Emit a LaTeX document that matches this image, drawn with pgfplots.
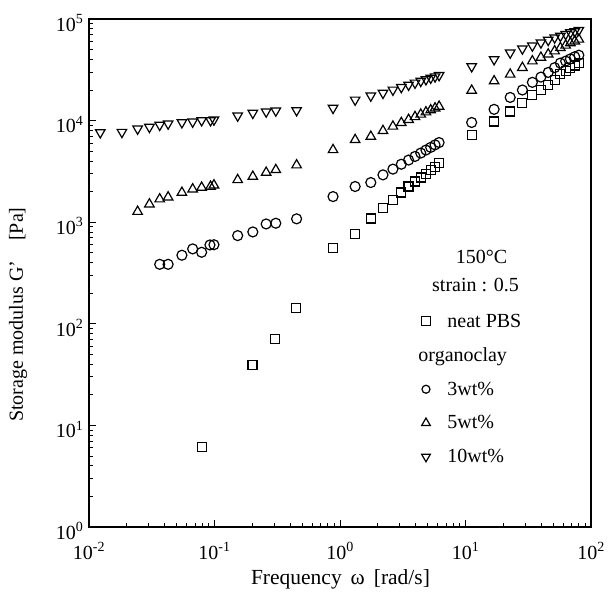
\documentclass[border=0pt]{standalone}
\usepackage{fontspec}
\setmainfont{Liberation Serif}
\usepackage{pgfplots}
\pgfplotsset{compat=1.18}
\newcommand{\bigf}{\fontsize{20bp}{24bp}\selectfont}
\newcommand{\labf}{\fontsize{21.5bp}{25bp}\selectfont}
\begin{document}
\begin{tikzpicture}
\path[use as bounding box] (-89bp,-67bp) rectangle (522bp,527bp);
\begin{axis}[
  at={(0,0)}, anchor=south west,
  scale only axis, width=502bp, height=508bp,
  xmode=log, ymode=log,
  xmin=0.01, xmax=100, ymin=1, ymax=1e5,
  tick align=inside, xtick pos=bottom, ytick pos=left,
  axis line style={line width=1.4bp},
  major tick length=7bp, minor tick length=4bp,
  every tick/.style={line width=0.9bp, black},
  xticklabel={10\textsuperscript{\pgfmathparse{int(round(\tick/ln(10)))}\pgfmathresult}},
  yticklabel={10\textsuperscript{\pgfmathparse{int(round(\tick/ln(10)))}\pgfmathresult}},
  tick label style={font=\bigf},
  xticklabel style={yshift=-12bp},
  yticklabel style={xshift=-2bp, yshift=-4bp},
  xlabel={Frequency \,ω\, [rad/s]},
  ylabel={Storage modulus G'\quad [Pa]},
  every axis x label/.style={at={(axis description cs:0.501,-0.104)}, anchor=center, font=\labf},
  every axis y label/.style={at={(axis description cs:-0.1414,0.418)}, anchor=center, rotate=90, font=\bigf},
  every axis plot/.append style={only marks, mark options={solid, black, line width=1.2bp, fill=none}},
  legend style={draw=none, fill=none, font=\bigf, at={(axis description cs:0.648,0.428)}, anchor=north west, row sep=15bp, column sep=15bp},
  legend cell align=left,
]
% neat PBS
\addplot[mark=square, mark size=4.5bp, forget plot] coordinates {
(0.079,6.1) (0.201,39.5) (0.304,70.8) (0.445,144)
(0.88,555) (1.32,767) (1.76,1087) (2.2,1383) (2.64,1660) (3.08,1960) (3.52,2245)
(3.96,2515) (4.4,2750) (4.84,3000) (5.28,3250) (5.72,3500) (6.16,3800)
(11.2,7240) (16.9,9800) (22.7,12300) (28.4,14900) (34.1,17900) (39.9,20100)
(45.6,22500) (51.3,25200) (57.0,29000) (62.8,31000) (68.5,33000) (74.2,34800) (80.0,36800)
};
% 3 wt%
\addplot[mark=o, mark size=5bp, forget plot] coordinates {
(0.0366,385) (0.0427,385) (0.055,473) (0.067,546) (0.079,506) (0.092,597) (0.099,600)
(0.153,738) (0.202,802) (0.258,961) (0.308,977) (0.451,1079)
(0.88,1787) (1.32,2245) (1.76,2456) (2.2,2923) (2.64,3330) (3.08,3720) (3.52,4090)
(3.96,4440) (4.4,4790) (4.84,5130) (5.28,5450) (5.72,5770) (6.16,6080)
(11.2,9580) (16.9,12900) (22.7,16900) (28.4,20000) (34.1,23800) (39.9,26800)
(45.6,29800) (51.3,33200) (57.0,36800) (62.8,38500) (68.5,40500) (74.2,42500) (80.0,44000)
};
% 5 wt%
\addplot[mark=triangle, mark size=5.5bp, forget plot] coordinates {
(0.0244,1271) (0.0303,1504) (0.0366,1687) (0.0427,1763) (0.055,1958) (0.067,2114)
(0.079,2195) (0.093,2245) (0.099,2314) (0.153,2610) (0.202,2813) (0.258,3083) (0.308,3276) (0.451,3646)
(0.88,5150) (1.32,6470) (1.76,6970) (2.2,7940) (2.64,8770) (3.08,9510) (3.52,10210)
(3.96,10880) (4.4,11510) (4.84,12110) (5.28,12690) (5.72,13250) (6.16,13770)
(11.2,19800) (16.9,24500) (22.7,28500) (28.4,33200) (34.1,38500) (39.9,41800)
(45.6,45000) (51.3,48300) (57.0,52000) (62.8,55000) (68.5,58000) (74.2,60500) (80.0,63000)
};
% 10 wt%
\addplot[mark=triangle, mark options={solid, black, line width=1.2bp, fill=none, rotate=180}, mark size=5.5bp, forget plot] coordinates {
(0.0123,7640) (0.0183,7700) (0.0244,8300) (0.0303,8630) (0.0366,9040) (0.0427,9310)
(0.055,9580) (0.067,9730) (0.079,10030) (0.093,10030) (0.099,10190)
(0.153,11150) (0.202,11860) (0.258,12220) (0.308,12500) (0.451,12590)
(0.88,13280) (1.32,16000) (1.76,17540) (2.2,18670) (2.64,20050) (3.08,21300) (3.52,22440)
(3.96,23500) (4.4,24490) (4.84,25410) (5.28,26300) (5.72,27100) (6.16,27900)
(11.2,34100) (16.9,40000) (22.7,46500) (28.4,51000) (34.1,54500) (39.9,58500)
(45.6,62000) (51.3,65500) (57.0,68000) (62.8,71000) (68.5,73500) (74.2,75500) (80.0,77600)
};
\addlegendimage{only marks, mark=square, mark size=4.5bp, mark options={solid, black, line width=1.2bp, fill=none}}
\addlegendentry{neat PBS}
\addlegendimage{empty legend}
\addlegendentry{\makebox[0pt][l]{\hspace*{-29bp}organoclay}}
\addlegendimage{only marks, mark=o, mark size=4bp, mark options={solid, black, line width=1.2bp, fill=none}}
\addlegendentry{3wt\%}
\addlegendimage{only marks, mark=triangle, mark size=5bp, mark options={solid, black, line width=1.2bp, fill=none}}
\addlegendentry{5wt\%}
\addlegendimage{only marks, mark=triangle, mark size=5bp, mark options={solid, black, line width=1.2bp, fill=none, rotate=180}}
\addlegendentry{10wt\%}
\node[font=\bigf] at (axis description cs:0.782,0.532) {150°C};
\node[font=\bigf] at (axis description cs:0.770,0.476) {strain : 0.5};
\end{axis}
\end{tikzpicture}
\end{document}
